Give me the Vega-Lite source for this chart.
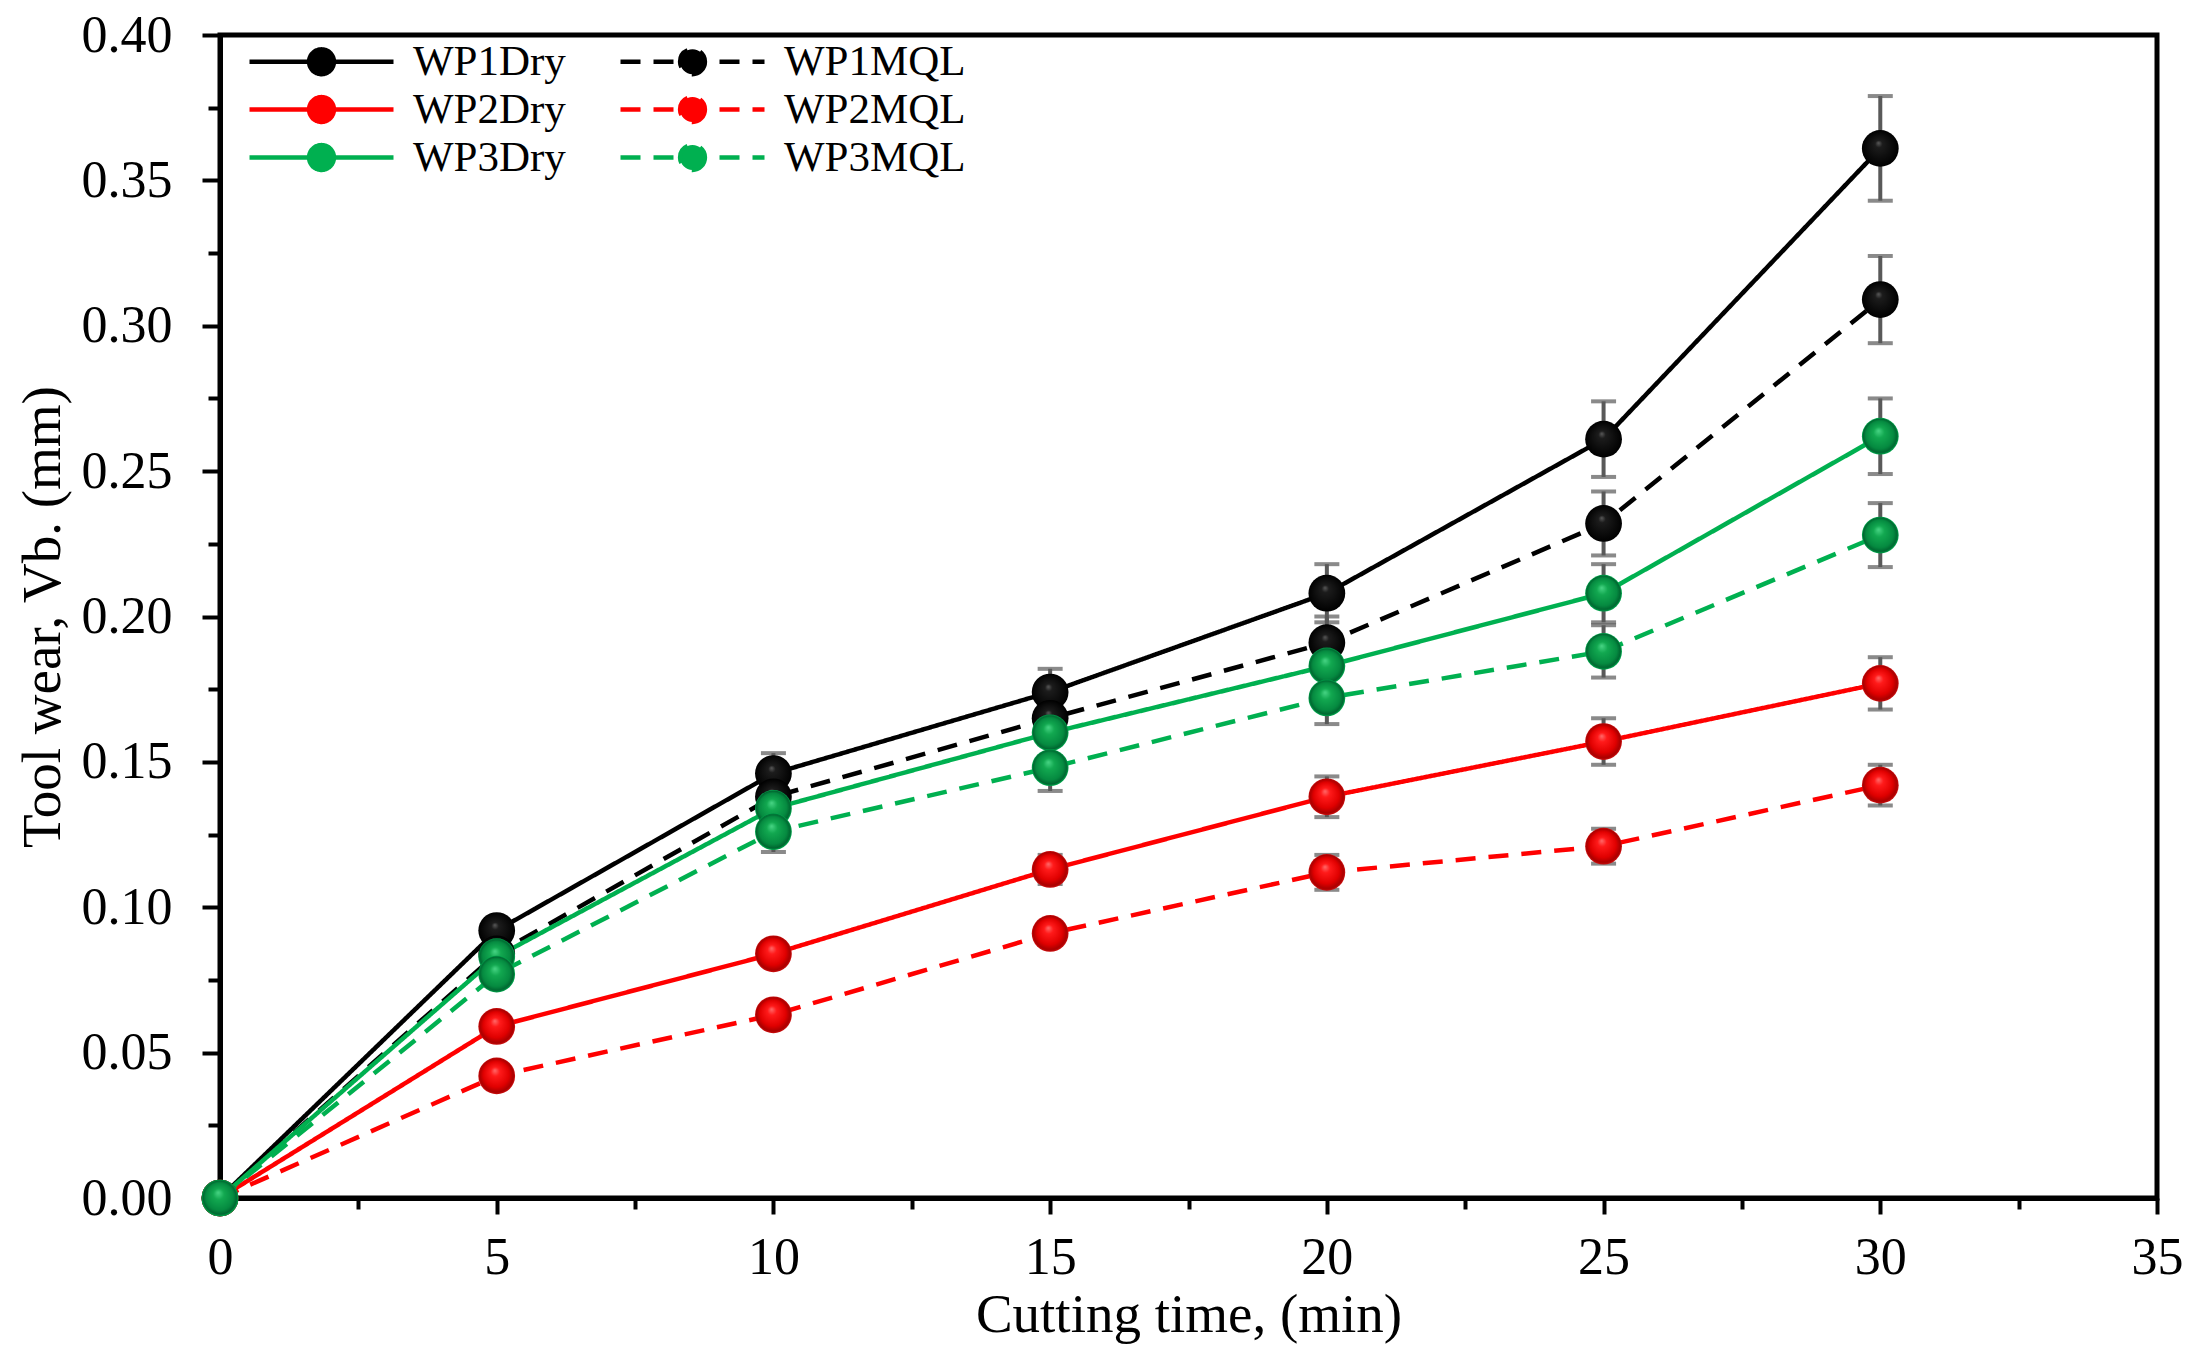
{
  "$schema": "https://vega.github.io/schema/vega-lite/v6.json",
  "width": 1937,
  "height": 1163,
  "autosize": {"type": "none"},
  "padding": {"left": 220, "top": 35, "right": 37, "bottom": 169},
  "background": "white",
  "data": {
    "values": [
      {"series": "WP1Dry", "wp": "WP1", "t": 0, "vb": 0, "err": 0},
      {"series": "WP1Dry", "wp": "WP1", "t": 5, "vb": 0.092, "err": 0.004},
      {"series": "WP1Dry", "wp": "WP1", "t": 10, "vb": 0.146, "err": 0.007},
      {"series": "WP1Dry", "wp": "WP1", "t": 15, "vb": 0.174, "err": 0.008},
      {"series": "WP1Dry", "wp": "WP1", "t": 20, "vb": 0.208, "err": 0.010},
      {"series": "WP1Dry", "wp": "WP1", "t": 25, "vb": 0.261, "err": 0.013},
      {"series": "WP1Dry", "wp": "WP1", "t": 30, "vb": 0.361, "err": 0.018},
      {"series": "WP1MQL", "wp": "WP1", "t": 0, "vb": 0, "err": 0},
      {"series": "WP1MQL", "wp": "WP1", "t": 5, "vb": 0.084, "err": 0.004},
      {"series": "WP1MQL", "wp": "WP1", "t": 10, "vb": 0.138, "err": 0.007},
      {"series": "WP1MQL", "wp": "WP1", "t": 15, "vb": 0.165, "err": 0.008},
      {"series": "WP1MQL", "wp": "WP1", "t": 20, "vb": 0.191, "err": 0.009},
      {"series": "WP1MQL", "wp": "WP1", "t": 25, "vb": 0.232, "err": 0.011},
      {"series": "WP1MQL", "wp": "WP1", "t": 30, "vb": 0.309, "err": 0.015},
      {"series": "WP2Dry", "wp": "WP2", "t": 0, "vb": 0, "err": 0},
      {"series": "WP2Dry", "wp": "WP2", "t": 5, "vb": 0.059, "err": 0.003},
      {"series": "WP2Dry", "wp": "WP2", "t": 10, "vb": 0.084, "err": 0.004},
      {"series": "WP2Dry", "wp": "WP2", "t": 15, "vb": 0.113, "err": 0.005},
      {"series": "WP2Dry", "wp": "WP2", "t": 20, "vb": 0.138, "err": 0.007},
      {"series": "WP2Dry", "wp": "WP2", "t": 25, "vb": 0.157, "err": 0.008},
      {"series": "WP2Dry", "wp": "WP2", "t": 30, "vb": 0.177, "err": 0.009},
      {"series": "WP2MQL", "wp": "WP2", "t": 0, "vb": 0, "err": 0},
      {"series": "WP2MQL", "wp": "WP2", "t": 5, "vb": 0.042, "err": 0.003},
      {"series": "WP2MQL", "wp": "WP2", "t": 10, "vb": 0.063, "err": 0.003},
      {"series": "WP2MQL", "wp": "WP2", "t": 15, "vb": 0.091, "err": 0.004},
      {"series": "WP2MQL", "wp": "WP2", "t": 20, "vb": 0.112, "err": 0.006},
      {"series": "WP2MQL", "wp": "WP2", "t": 25, "vb": 0.121, "err": 0.006},
      {"series": "WP2MQL", "wp": "WP2", "t": 30, "vb": 0.142, "err": 0.007},
      {"series": "WP3Dry", "wp": "WP3", "t": 0, "vb": 0, "err": 0},
      {"series": "WP3Dry", "wp": "WP3", "t": 5, "vb": 0.083, "err": 0.004},
      {"series": "WP3Dry", "wp": "WP3", "t": 10, "vb": 0.134, "err": 0.007},
      {"series": "WP3Dry", "wp": "WP3", "t": 15, "vb": 0.160, "err": 0.008},
      {"series": "WP3Dry", "wp": "WP3", "t": 20, "vb": 0.183, "err": 0.009},
      {"series": "WP3Dry", "wp": "WP3", "t": 25, "vb": 0.208, "err": 0.010},
      {"series": "WP3Dry", "wp": "WP3", "t": 30, "vb": 0.262, "err": 0.013},
      {"series": "WP3MQL", "wp": "WP3", "t": 0, "vb": 0, "err": 0},
      {"series": "WP3MQL", "wp": "WP3", "t": 5, "vb": 0.077, "err": 0.004},
      {"series": "WP3MQL", "wp": "WP3", "t": 10, "vb": 0.126, "err": 0.007},
      {"series": "WP3MQL", "wp": "WP3", "t": 15, "vb": 0.148, "err": 0.008},
      {"series": "WP3MQL", "wp": "WP3", "t": 20, "vb": 0.172, "err": 0.009},
      {"series": "WP3MQL", "wp": "WP3", "t": 25, "vb": 0.188, "err": 0.009},
      {"series": "WP3MQL", "wp": "WP3", "t": 30, "vb": 0.228, "err": 0.011}
    ]
  },
  "layer": [
    {
      "mark": {"type": "line", "strokeWidth": 4.5},
      "encoding": {
        "x": {
          "field": "t", "type": "quantitative",
          "scale": {"domain": [0, 35], "nice": false},
          "axis": {
            "values": [0, 5, 10, 15, 20, 25, 30, 35],
            "format": "d",
            "tickSize": 16,
            "labelPadding": 18,
            "title": "Cutting time, (min)",
            "titlePadding": 5
          }
        },
        "y": {
          "field": "vb", "type": "quantitative",
          "scale": {"domain": [0, 0.4], "nice": false},
          "axis": {
            "values": [0, 0.05, 0.1, 0.15, 0.2, 0.25, 0.3, 0.35, 0.4],
            "format": ".2f",
            "tickSize": 18,
            "labelPadding": 30,
            "title": "Tool wear, Vb. (mm)",
            "titlePadding": 10
          }
        },
        "color": {
          "field": "series", "type": "nominal",
          "scale": {
            "domain": ["WP1Dry", "WP1MQL", "WP2Dry", "WP2MQL", "WP3Dry", "WP3MQL"],
            "range": ["#000000", "#000000", "#ff0000", "#ff0000", "#00b050", "#00b050"]
          },
          "legend": {
            "title": null,
            "orient": "none",
            "legendX": 79,
            "legendY": 4,
            "direction": "horizontal",
            "columns": 2,
            "padding": 0,
            "symbolType": "M-3.6,0H3.6M0.62,0A0.62,0.62,0,1,1,-0.62,0A0.62,0.62,0,1,1,0.62,0Z",
            "symbolSize": 1600,
            "symbolStrokeWidth": 4.5,
            "labelFontSize": 43,
            "labelOffset": 69,
            "labelLimit": 400,
            "rowPadding": 3,
            "columnPadding": 45,
            "encode": {
              "symbols": {"update": {"fill": {"scale": "color", "field": "value"}, "fillOpacity": {"value": 1}}}
            }
          }
        },
        "strokeDash": {
          "field": "series", "type": "nominal",
          "scale": {
            "domain": ["WP1Dry", "WP1MQL", "WP2Dry", "WP2MQL", "WP3Dry", "WP3MQL"],
            "range": [[1, 0], [20, 13], [1, 0], [20, 13], [1, 0], [20, 13]]
          }
        }
      }
    },
    {
      "mark": {"type": "errorbar", "ticks": {"size": 25}, "thickness": 4, "color": "#595959"},
      "encoding": {
        "x": {"field": "t", "type": "quantitative", "scale": {"domain": [0, 35], "nice": false}, "axis": null},
        "y": {"field": "vb", "type": "quantitative", "scale": {"domain": [0, 0.4], "nice": false}, "axis": null},
        "yError": {"field": "err"}
      }
    },
    {
      "transform": [{"filter": "datum.wp == 'WP1'"}],
      "mark": {
        "type": "circle", "size": 1350, "opacity": 1, "strokeWidth": 0,
        "fill": {
          "gradient": "radial", "x1": 0.45, "y1": 0.35, "r1": 0, "x2": 0.5, "y2": 0.5, "r2": 0.5,
          "stops": [
            {"offset": 0, "color": "#5a5a5a"},
            {"offset": 0.2, "color": "#1c1c1c"},
            {"offset": 1, "color": "#000000"}
          ]
        }
      },
      "encoding": {
        "x": {
          "field": "t", "type": "quantitative", "scale": {"domain": [0, 35], "nice": false},
          "axis": {"orient": "bottom", "values": [2.5, 7.5, 12.5, 17.5, 22.5, 27.5, 32.5], "tickSize": 11, "labels": false, "domain": false, "title": null}
        },
        "y": {
          "field": "vb", "type": "quantitative", "scale": {"domain": [0, 0.4], "nice": false},
          "axis": {"orient": "left", "values": [0.025, 0.075, 0.125, 0.175, 0.225, 0.275, 0.325, 0.375], "tickSize": 12, "labels": false, "domain": false, "title": null}
        }
      }
    },
    {
      "transform": [{"filter": "datum.wp == 'WP2'"}],
      "mark": {
        "type": "circle", "size": 1350, "opacity": 1, "strokeWidth": 0,
        "fill": {
          "gradient": "radial", "x1": 0.45, "y1": 0.35, "r1": 0, "x2": 0.5, "y2": 0.5, "r2": 0.5,
          "stops": [
            {"offset": 0, "color": "#ff6a6a"},
            {"offset": 0.25, "color": "#ff1a1a"},
            {"offset": 0.7, "color": "#e00000"},
            {"offset": 0.92, "color": "#a80000"},
            {"offset": 1, "color": "#d01010"}
          ]
        }
      },
      "encoding": {
        "x": {"field": "t", "type": "quantitative", "scale": {"domain": [0, 35], "nice": false}, "axis": null},
        "y": {"field": "vb", "type": "quantitative", "scale": {"domain": [0, 0.4], "nice": false}, "axis": null}
      }
    },
    {
      "transform": [{"filter": "datum.wp == 'WP3'"}],
      "mark": {
        "type": "circle", "size": 1350, "opacity": 1, "strokeWidth": 0,
        "fill": {
          "gradient": "radial", "x1": 0.45, "y1": 0.35, "r1": 0, "x2": 0.5, "y2": 0.5, "r2": 0.5,
          "stops": [
            {"offset": 0, "color": "#48d585"},
            {"offset": 0.3, "color": "#12a850"},
            {"offset": 0.75, "color": "#058a40"},
            {"offset": 0.92, "color": "#006630"},
            {"offset": 1, "color": "#00b050"}
          ]
        }
      },
      "encoding": {
        "x": {"field": "t", "type": "quantitative", "scale": {"domain": [0, 35], "nice": false}, "axis": null},
        "y": {"field": "vb", "type": "quantitative", "scale": {"domain": [0, 0.4], "nice": false}, "axis": null}
      }
    }
  ],
  "resolve": {"axis": {"x": "independent", "y": "independent"}},
  "config": {
    "font": "Liberation Serif",
    "view": {"stroke": "#000000", "strokeWidth": 5},
    "axis": {
      "grid": false,
      "domainColor": "#000000",
      "domainWidth": 5,
      "tickColor": "#000000",
      "tickWidth": 4,
      "labelColor": "#000000",
      "titleColor": "#000000",
      "labelFont": "Liberation Serif",
      "titleFont": "Liberation Serif",
      "labelFontSize": 52,
      "titleFontSize": 55,
      "titleFontWeight": "normal",
      "labelFlush": false,
      "labelOverlap": false,
      "labelBound": false
    },
    "legend": {
      "labelFont": "Liberation Serif",
      "labelColor": "#000000"
    }
  }
}
